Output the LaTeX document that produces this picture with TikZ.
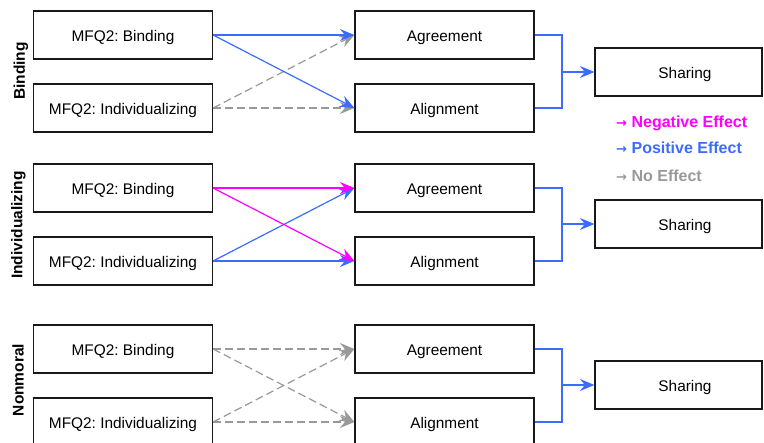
\documentclass[tikz,border=0pt]{standalone}
\usepackage{fontspec}
\setmainfont{Liberation Sans}
\newfontfamily\arrowfont{DejaVu Sans}
\usetikzlibrary{arrows.meta}
\frenchspacing
\definecolor{pblue}{RGB}{59,108,255}
\definecolor{nmag}{RGB}{255,0,255}
\definecolor{ngray}{RGB}{153,153,153}
\newcommand{\legarrow}{{\arrowfont\fontsize{13}{14}\selectfont →}\hspace{4.5pt}}
\tikzset{
  box/.style={draw=black!90, line width=1.2pt, minimum width=179pt, minimum height=48pt, inner sep=0pt, text height=14pt, text depth=0pt, font=\fontsize{15.4}{18}\selectfont},
  sharebox/.style={draw=black!90, line width=1.2pt, minimum width=167pt, minimum height=48pt, inner sep=0pt},
  sharetext/.style={font=\fontsize{15.4}{18}\selectfont, text height=14pt, text depth=0pt, inner sep=0pt, xshift=6.5pt},
  grplabel/.style={rotate=90, font=\fontsize{15.5}{18}\selectfont\bfseries},
  arrtip/.style={-{Stealth[length=14.5pt,width=12pt,inset=5pt]}},
  posarr/.style={arrtip, draw=pblue, line width=1.2pt},
  negarr/.style={arrtip, draw=nmag, line width=1.2pt},
  nonearr/.style={arrtip, draw=ngray, line width=1.2pt, dash pattern=on 8pt off 4pt},
  brk/.style={draw=pblue, line width=1.2pt},
  legend/.style={anchor=west, font=\fontsize{16}{18}\selectfont\bfseries, inner sep=0pt, text height=12pt, text depth=0pt}
}
\begin{document}
\begin{tikzpicture}[x=1pt,y=-1pt]
\useasboundingbox (0,0) rectangle (764,443);
% group labels
\node[grplabel] (g1) at (21,71) {Binding};
\node[grplabel] (g2) at (18.5,225) {Individualizing};
\node[grplabel] (g3) at (18,380) {Nonmoral};
% boxes group 1
\node[box] (b1) at (123,35) {MFQ2: Binding};
\node[box] (i1) at (123,108) {MFQ2: Individualizing};
\node[box] (ag1) at (444.5,35) {Agreement};
\node[box] (al1) at (444.5,108) {Alignment};
\node[sharebox, label={[sharetext]center:Sharing}] (sh1) at (678.5,72) {};
% boxes group 2
\node[box] (b2) at (123,188) {MFQ2: Binding};
\node[box] (i2) at (123,261) {MFQ2: Individualizing};
\node[box] (ag2) at (444.5,188) {Agreement};
\node[box] (al2) at (444.5,261) {Alignment};
\node[sharebox, label={[sharetext]center:Sharing}] (sh2) at (678.5,224) {};
% boxes group 3
\node[box] (b3) at (123,349) {MFQ2: Binding};
\node[box] (i3) at (123,422) {MFQ2: Individualizing};
\node[box] (ag3) at (444.5,349) {Agreement};
\node[box] (al3) at (444.5,422) {Alignment};
\node[sharebox, label={[sharetext]center:Sharing}] (sh3) at (678.5,385) {};
% group 1 arrows
\draw[nonearr] (i1.east) -- (ag1.west);
\draw[nonearr] (i1.east) -- (al1.west);
\draw[posarr] (b1.east) -- (ag1.west);
\draw[posarr] (b1.east) -- (al1.west);
% group 2 arrows
\draw[posarr] (i2.east) -- (ag2.west);
\draw[posarr] (i2.east) -- (al2.west);
\draw[negarr] (b2.east) -- (ag2.west);
\draw[negarr] (b2.east) -- (al2.west);
% group 3 arrows
\draw[nonearr] (b3.east) -- (ag3.west);
\draw[nonearr] (b3.east) -- (al3.west);
\draw[nonearr] (i3.east) -- (ag3.west);
\draw[nonearr] (i3.east) -- (al3.west);
% brackets
\coordinate (j1) at (562,72);
\coordinate (j2) at (562,224);
\coordinate (j3) at (562,385);
\draw[brk] (ag1.east) -| (j1) |- (al1.east);
\draw[posarr] (j1) -- (sh1.west);
\draw[brk] (ag2.east) -| (j2) |- (al2.east);
\draw[posarr] (j2) -- (sh2.west);
\draw[brk] (ag3.east) -| (j3) |- (al3.east);
\draw[posarr] (j3) -- (sh3.west);
% legend
\node[legend, text=nmag] (l1) at (616,121.5) {\legarrow Negative Effect};
\node[legend, text=pblue] (l2) at (616,147.5) {\legarrow Positive Effect};
\node[legend, text=ngray] (l3) at (616,175.5) {\legarrow No Effect};
\end{tikzpicture}
\end{document}
